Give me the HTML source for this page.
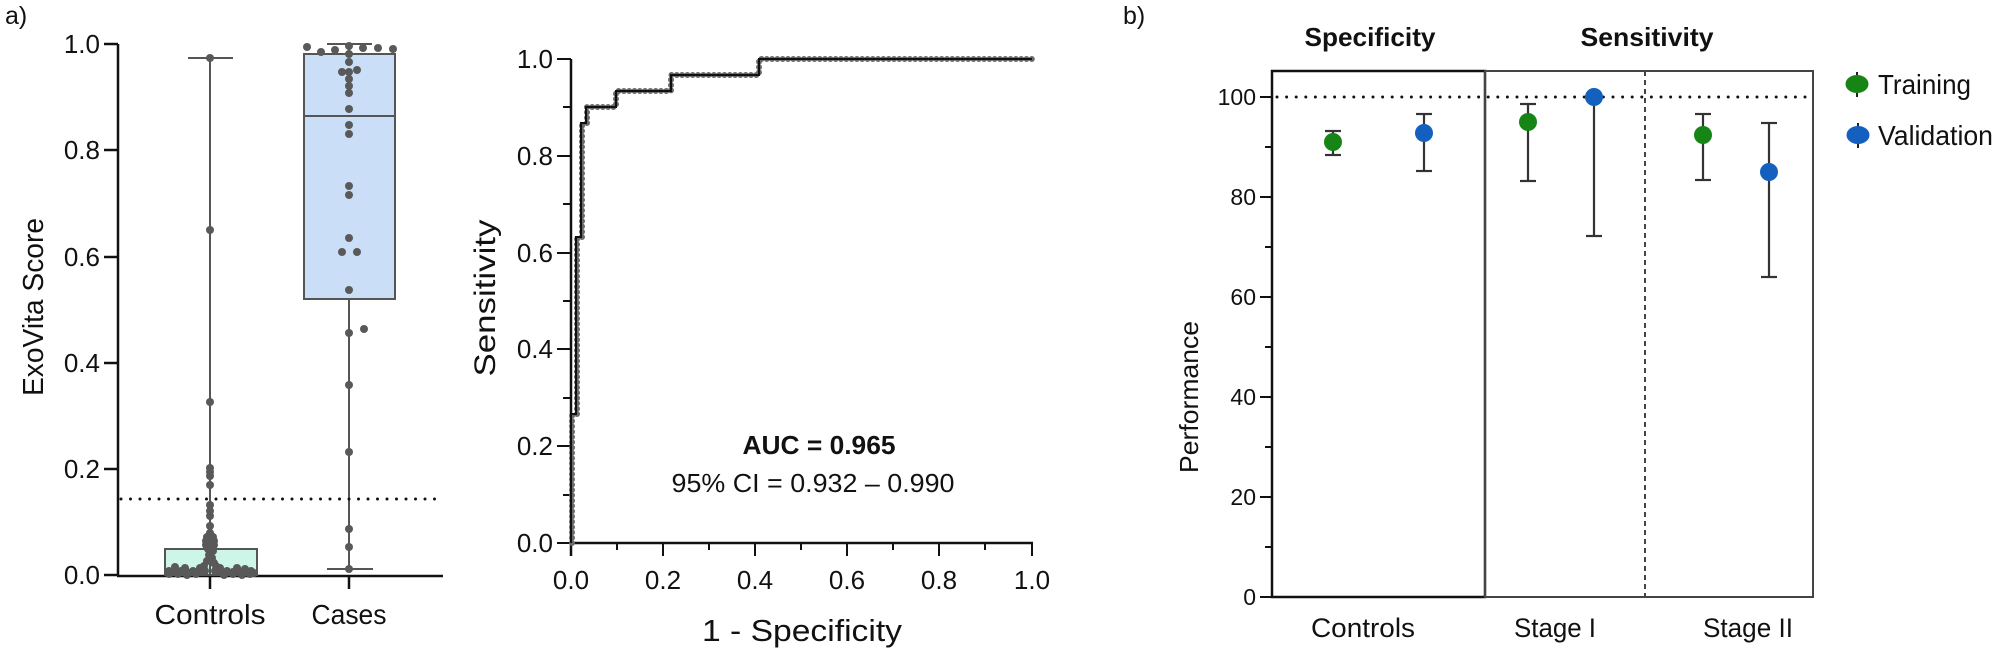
<!DOCTYPE html>
<html><head><meta charset="utf-8"><style>
html,body{margin:0;padding:0;background:#fff}
svg{display:block}
text{font-family:"Liberation Sans",sans-serif;fill:#111}
</style></head><body>
<svg width="2000" height="657" viewBox="0 0 2000 657" xmlns="http://www.w3.org/2000/svg">
<rect width="2000" height="657" fill="#fff"/>
<text x="5" y="24" font-size="25">a)</text>

<g stroke="#111" stroke-width="2.5" fill="none">
<line x1="118" y1="44" x2="118" y2="576"/>
<line x1="117" y1="576" x2="443" y2="576"/>
<line x1="104" y1="44" x2="118" y2="44"/>
<line x1="104" y1="150" x2="118" y2="150"/>
<line x1="104" y1="257" x2="118" y2="257"/>
<line x1="104" y1="363" x2="118" y2="363"/>
<line x1="104" y1="469" x2="118" y2="469"/>
<line x1="104" y1="575" x2="118" y2="575"/>
<line x1="210" y1="576" x2="210" y2="589"/>
<line x1="349" y1="576" x2="349" y2="589"/>
</g>
<g font-size="26" text-anchor="end">
<text x="100" y="53">1.0</text>
<text x="100" y="159">0.8</text>
<text x="100" y="266">0.6</text>
<text x="100" y="372">0.4</text>
<text x="100" y="478">0.2</text>
<text x="100" y="584">0.0</text>
</g>
<text transform="translate(43,307) rotate(-90)" font-size="29" text-anchor="middle" textLength="178" lengthAdjust="spacingAndGlyphs">ExoVita Score</text>
<text x="210" y="624" font-size="28" text-anchor="middle" textLength="111" lengthAdjust="spacingAndGlyphs">Controls</text>
<text x="349" y="624" font-size="28" text-anchor="middle" textLength="75" lengthAdjust="spacingAndGlyphs">Cases</text>

<rect x="165" y="549" width="92" height="26" fill="#cdf5e8" stroke="#555" stroke-width="2"/>
<rect x="304" y="54" width="91" height="245" fill="#cadff7" stroke="#555" stroke-width="2"/>
<g stroke="#555" stroke-width="2">
<line x1="304" y1="116" x2="395" y2="116"/>
<line x1="210" y1="575" x2="210" y2="58"/>
<line x1="188" y1="58" x2="233" y2="58"/>
<line x1="349" y1="54" x2="349" y2="44"/>
<line x1="327" y1="44" x2="372" y2="44"/>
<line x1="349" y1="299" x2="349" y2="569"/>
<line x1="327" y1="569" x2="373" y2="569"/>
</g>
<line x1="121" y1="499" x2="440" y2="499" stroke="#111" stroke-width="3" stroke-dasharray="0 9.5" stroke-linecap="round"/>

<g fill="#595959">
<circle cx="307" cy="47" r="4"/><circle cx="321" cy="52" r="4"/><circle cx="335" cy="50" r="4"/><circle cx="349" cy="46" r="4"/>
<circle cx="363" cy="48" r="4"/><circle cx="378" cy="48" r="4"/><circle cx="393" cy="49" r="4"/>
<circle cx="349" cy="54" r="4"/><circle cx="349" cy="62" r="4"/><circle cx="342" cy="72" r="4"/><circle cx="349" cy="72" r="4"/><circle cx="357" cy="70" r="4"/>
<circle cx="349" cy="79" r="4"/><circle cx="349" cy="86" r="4"/><circle cx="349" cy="93" r="4"/><circle cx="349" cy="109" r="4"/>
<circle cx="349" cy="125" r="4"/><circle cx="349" cy="134" r="4"/><circle cx="349" cy="186" r="4"/><circle cx="349" cy="195" r="4"/>
<circle cx="349" cy="238" r="4"/><circle cx="342" cy="252" r="4"/><circle cx="357" cy="252" r="4"/><circle cx="349" cy="290" r="4"/>
<circle cx="349" cy="333" r="4"/><circle cx="364" cy="329" r="4"/><circle cx="349" cy="385" r="4"/><circle cx="349" cy="452" r="4"/>
<circle cx="349" cy="529" r="4"/><circle cx="349" cy="547" r="4"/><circle cx="349" cy="569" r="4"/>
<circle cx="210" cy="58" r="4"/><circle cx="210" cy="230" r="4"/><circle cx="210" cy="402" r="4"/>
<circle cx="210" cy="468" r="4"/><circle cx="210" cy="472" r="4"/><circle cx="210" cy="476" r="4"/><circle cx="210" cy="485" r="4"/>
<circle cx="210" cy="505" r="4"/><circle cx="210" cy="511" r="4"/><circle cx="210" cy="516" r="4"/><circle cx="210" cy="526" r="4"/>
<circle cx="210" cy="533" r="4"/><circle cx="207" cy="537" r="4"/><circle cx="213" cy="537" r="4"/><circle cx="206" cy="541" r="4"/><circle cx="214" cy="541" r="4"/>
<circle cx="206" cy="545" r="4"/><circle cx="214" cy="545" r="4"/><circle cx="208" cy="549" r="4"/><circle cx="213" cy="551" r="4"/>
<circle cx="209" cy="555" r="4"/><circle cx="212" cy="558" r="4"/><circle cx="207" cy="561" r="4"/><circle cx="214" cy="563" r="4"/>
<circle cx="204" cy="566" r="4"/><circle cx="216" cy="566" r="4"/><circle cx="200" cy="568" r="4"/><circle cx="220" cy="568" r="4"/>
<circle cx="185" cy="568" r="4"/><circle cx="175" cy="567" r="4"/><circle cx="237" cy="568" r="4"/><circle cx="245" cy="569" r="4"/>
<circle cx="169" cy="571" r="4"/><circle cx="175" cy="572" r="4"/><circle cx="181" cy="571" r="4"/><circle cx="187" cy="572" r="4"/>
<circle cx="193" cy="571" r="4"/><circle cx="199" cy="572" r="4"/><circle cx="205" cy="571" r="4"/><circle cx="215" cy="571" r="4"/>
<circle cx="221" cy="572" r="4"/><circle cx="227" cy="571" r="4"/><circle cx="233" cy="572" r="4"/><circle cx="239" cy="571" r="4"/>
<circle cx="245" cy="572" r="4"/><circle cx="251" cy="571" r="4"/><circle cx="254" cy="573" r="4"/>
<circle cx="169" cy="574" r="4"/><circle cx="178" cy="574" r="4"/><circle cx="187" cy="575" r="4"/><circle cx="196" cy="574" r="4"/>
<circle cx="224" cy="575" r="4"/><circle cx="233" cy="574" r="4"/><circle cx="242" cy="575" r="4"/><circle cx="250" cy="574" r="4"/>
</g>

<g stroke="#111" stroke-width="2.5" fill="none">
<line x1="571" y1="59" x2="571" y2="556"/>
<line x1="570" y1="543" x2="1033" y2="543"/>
</g>
<g stroke="#111" stroke-width="2">
<line x1="557" y1="59" x2="571" y2="59"/><line x1="563" y1="107" x2="571" y2="107"/>
<line x1="557" y1="156" x2="571" y2="156"/><line x1="563" y1="204" x2="571" y2="204"/>
<line x1="557" y1="253" x2="571" y2="253"/><line x1="563" y1="301" x2="571" y2="301"/>
<line x1="557" y1="349" x2="571" y2="349"/><line x1="563" y1="398" x2="571" y2="398"/>
<line x1="557" y1="446" x2="571" y2="446"/><line x1="563" y1="495" x2="571" y2="495"/>
<line x1="557" y1="543" x2="571" y2="543"/>
<line x1="617" y1="543" x2="617" y2="550"/><line x1="663" y1="543" x2="663" y2="556"/>
<line x1="709" y1="543" x2="709" y2="550"/><line x1="755" y1="543" x2="755" y2="556"/>
<line x1="801" y1="543" x2="801" y2="550"/><line x1="847" y1="543" x2="847" y2="556"/>
<line x1="893" y1="543" x2="893" y2="550"/><line x1="939" y1="543" x2="939" y2="556"/>
<line x1="985" y1="543" x2="985" y2="550"/><line x1="1032" y1="543" x2="1032" y2="556"/>
</g>
<g font-size="26" text-anchor="end">
<text x="553" y="68">1.0</text><text x="553" y="165">0.8</text><text x="553" y="262">0.6</text>
<text x="553" y="358">0.4</text><text x="553" y="455">0.2</text><text x="553" y="552">0.0</text>
</g>
<g font-size="26" text-anchor="middle">
<text x="571" y="589">0.0</text><text x="663" y="589">0.2</text><text x="755" y="589">0.4</text>
<text x="847" y="589">0.6</text><text x="939" y="589">0.8</text><text x="1032" y="589">1.0</text>
</g>
<text transform="translate(495,298) rotate(-90)" font-size="30" text-anchor="middle" textLength="157" lengthAdjust="spacingAndGlyphs">Sensitivity</text>
<text x="802" y="641" font-size="31" text-anchor="middle" textLength="200" lengthAdjust="spacingAndGlyphs">1 - Specificity</text>
<text x="819" y="454" font-size="26" font-weight="bold" text-anchor="middle" textLength="153" lengthAdjust="spacingAndGlyphs">AUC = 0.965</text>
<text x="813" y="492" font-size="26" text-anchor="middle" textLength="283" lengthAdjust="spacingAndGlyphs">95% CI = 0.932 – 0.990</text>
<path d="M572,543 L572,414 M577,414 L577,237 M582,237 L582,123 M587,123 L587,107 L616,107 L616,91 L671,91 L671,75 L759,75 L759,59 L1032,59" fill="none" stroke="#6a6a6a" stroke-width="6" stroke-dasharray="0 5.3" stroke-linecap="round"/>
<path d="M571,543 L571,414 L576,414 L576,237 L581,237 L581,123 L586,123 L586,107 L616,107 L616,91 L671,91 L671,75 L759,75 L759,59 L1032,59" fill="none" stroke="#111" stroke-width="2"/>

<text x="1123" y="24" font-size="25">b)</text>
<text x="1370" y="46" font-size="26" font-weight="bold" text-anchor="middle" textLength="131" lengthAdjust="spacingAndGlyphs">Specificity</text>
<text x="1647" y="46" font-size="26" font-weight="bold" text-anchor="middle" textLength="133" lengthAdjust="spacingAndGlyphs">Sensitivity</text>
<rect x="1272" y="71" width="213" height="526" fill="none" stroke="#111" stroke-width="2.5"/>
<rect x="1485" y="71" width="328" height="526" fill="none" stroke="#444" stroke-width="2"/>
<line x1="1645" y1="71" x2="1645" y2="597" stroke="#444" stroke-width="2" stroke-dasharray="5 4"/>
<line x1="1277" y1="97" x2="1812" y2="97" stroke="#111" stroke-width="3" stroke-dasharray="0 9.6" stroke-linecap="round"/>
<g stroke="#111" stroke-width="2">
<line x1="1260" y1="97" x2="1272" y2="97"/><line x1="1265" y1="147" x2="1272" y2="147"/>
<line x1="1260" y1="197" x2="1272" y2="197"/><line x1="1265" y1="247" x2="1272" y2="247"/>
<line x1="1260" y1="297" x2="1272" y2="297"/><line x1="1265" y1="347" x2="1272" y2="347"/>
<line x1="1260" y1="397" x2="1272" y2="397"/><line x1="1265" y1="447" x2="1272" y2="447"/>
<line x1="1260" y1="497" x2="1272" y2="497"/><line x1="1265" y1="547" x2="1272" y2="547"/>
<line x1="1260" y1="597" x2="1272" y2="597"/>
</g>
<g font-size="23" text-anchor="end">
<text x="1256" y="105">100</text><text x="1256" y="205">80</text><text x="1256" y="305">60</text>
<text x="1256" y="405">40</text><text x="1256" y="505">20</text><text x="1256" y="605">0</text>
</g>
<text transform="translate(1198,397) rotate(-90)" font-size="26" text-anchor="middle" textLength="152" lengthAdjust="spacingAndGlyphs">Performance</text>
<text x="1363" y="637" font-size="27" text-anchor="middle" textLength="104" lengthAdjust="spacingAndGlyphs">Controls</text>
<text x="1555" y="637" font-size="27" text-anchor="middle" textLength="82" lengthAdjust="spacingAndGlyphs">Stage I</text>
<text x="1748" y="637" font-size="27" text-anchor="middle" textLength="90" lengthAdjust="spacingAndGlyphs">Stage II</text>
<g stroke="#333" stroke-width="2.2">
<line x1="1333" y1="131" x2="1333" y2="155"/><line x1="1325" y1="131" x2="1341" y2="131"/><line x1="1325" y1="155" x2="1341" y2="155"/>
<line x1="1424" y1="114" x2="1424" y2="171"/><line x1="1416" y1="114" x2="1432" y2="114"/><line x1="1416" y1="171" x2="1432" y2="171"/>
<line x1="1528" y1="104" x2="1528" y2="181"/><line x1="1520" y1="104" x2="1536" y2="104"/><line x1="1520" y1="181" x2="1536" y2="181"/>
<line x1="1594" y1="97" x2="1594" y2="236"/><line x1="1586" y1="236" x2="1602" y2="236"/>
<line x1="1703" y1="114" x2="1703" y2="180"/><line x1="1695" y1="114" x2="1711" y2="114"/><line x1="1695" y1="180" x2="1711" y2="180"/>
<line x1="1769" y1="123" x2="1769" y2="277"/><line x1="1761" y1="123" x2="1777" y2="123"/><line x1="1761" y1="277" x2="1777" y2="277"/>
</g>
<g fill="#168516">
<circle cx="1333" cy="142" r="9"/><circle cx="1528" cy="122" r="9"/><circle cx="1703" cy="135" r="9"/>
</g>
<g fill="#1460bf">
<circle cx="1424" cy="133" r="9"/><circle cx="1594" cy="97" r="9"/><circle cx="1769" cy="172" r="9"/>
</g>
<line x1="1857" y1="72" x2="1857" y2="97" stroke="#222" stroke-width="2"/>
<ellipse cx="1857" cy="84" rx="11.5" ry="9" fill="#168516"/>
<line x1="1858" y1="123" x2="1858" y2="148" stroke="#222" stroke-width="2"/>
<ellipse cx="1858" cy="135" rx="11.5" ry="9" fill="#1460bf"/>
<text x="1878" y="94" font-size="28" textLength="93" lengthAdjust="spacingAndGlyphs">Training</text>
<text x="1878" y="145" font-size="28" textLength="115" lengthAdjust="spacingAndGlyphs">Validation</text>
</svg>
</body></html>
